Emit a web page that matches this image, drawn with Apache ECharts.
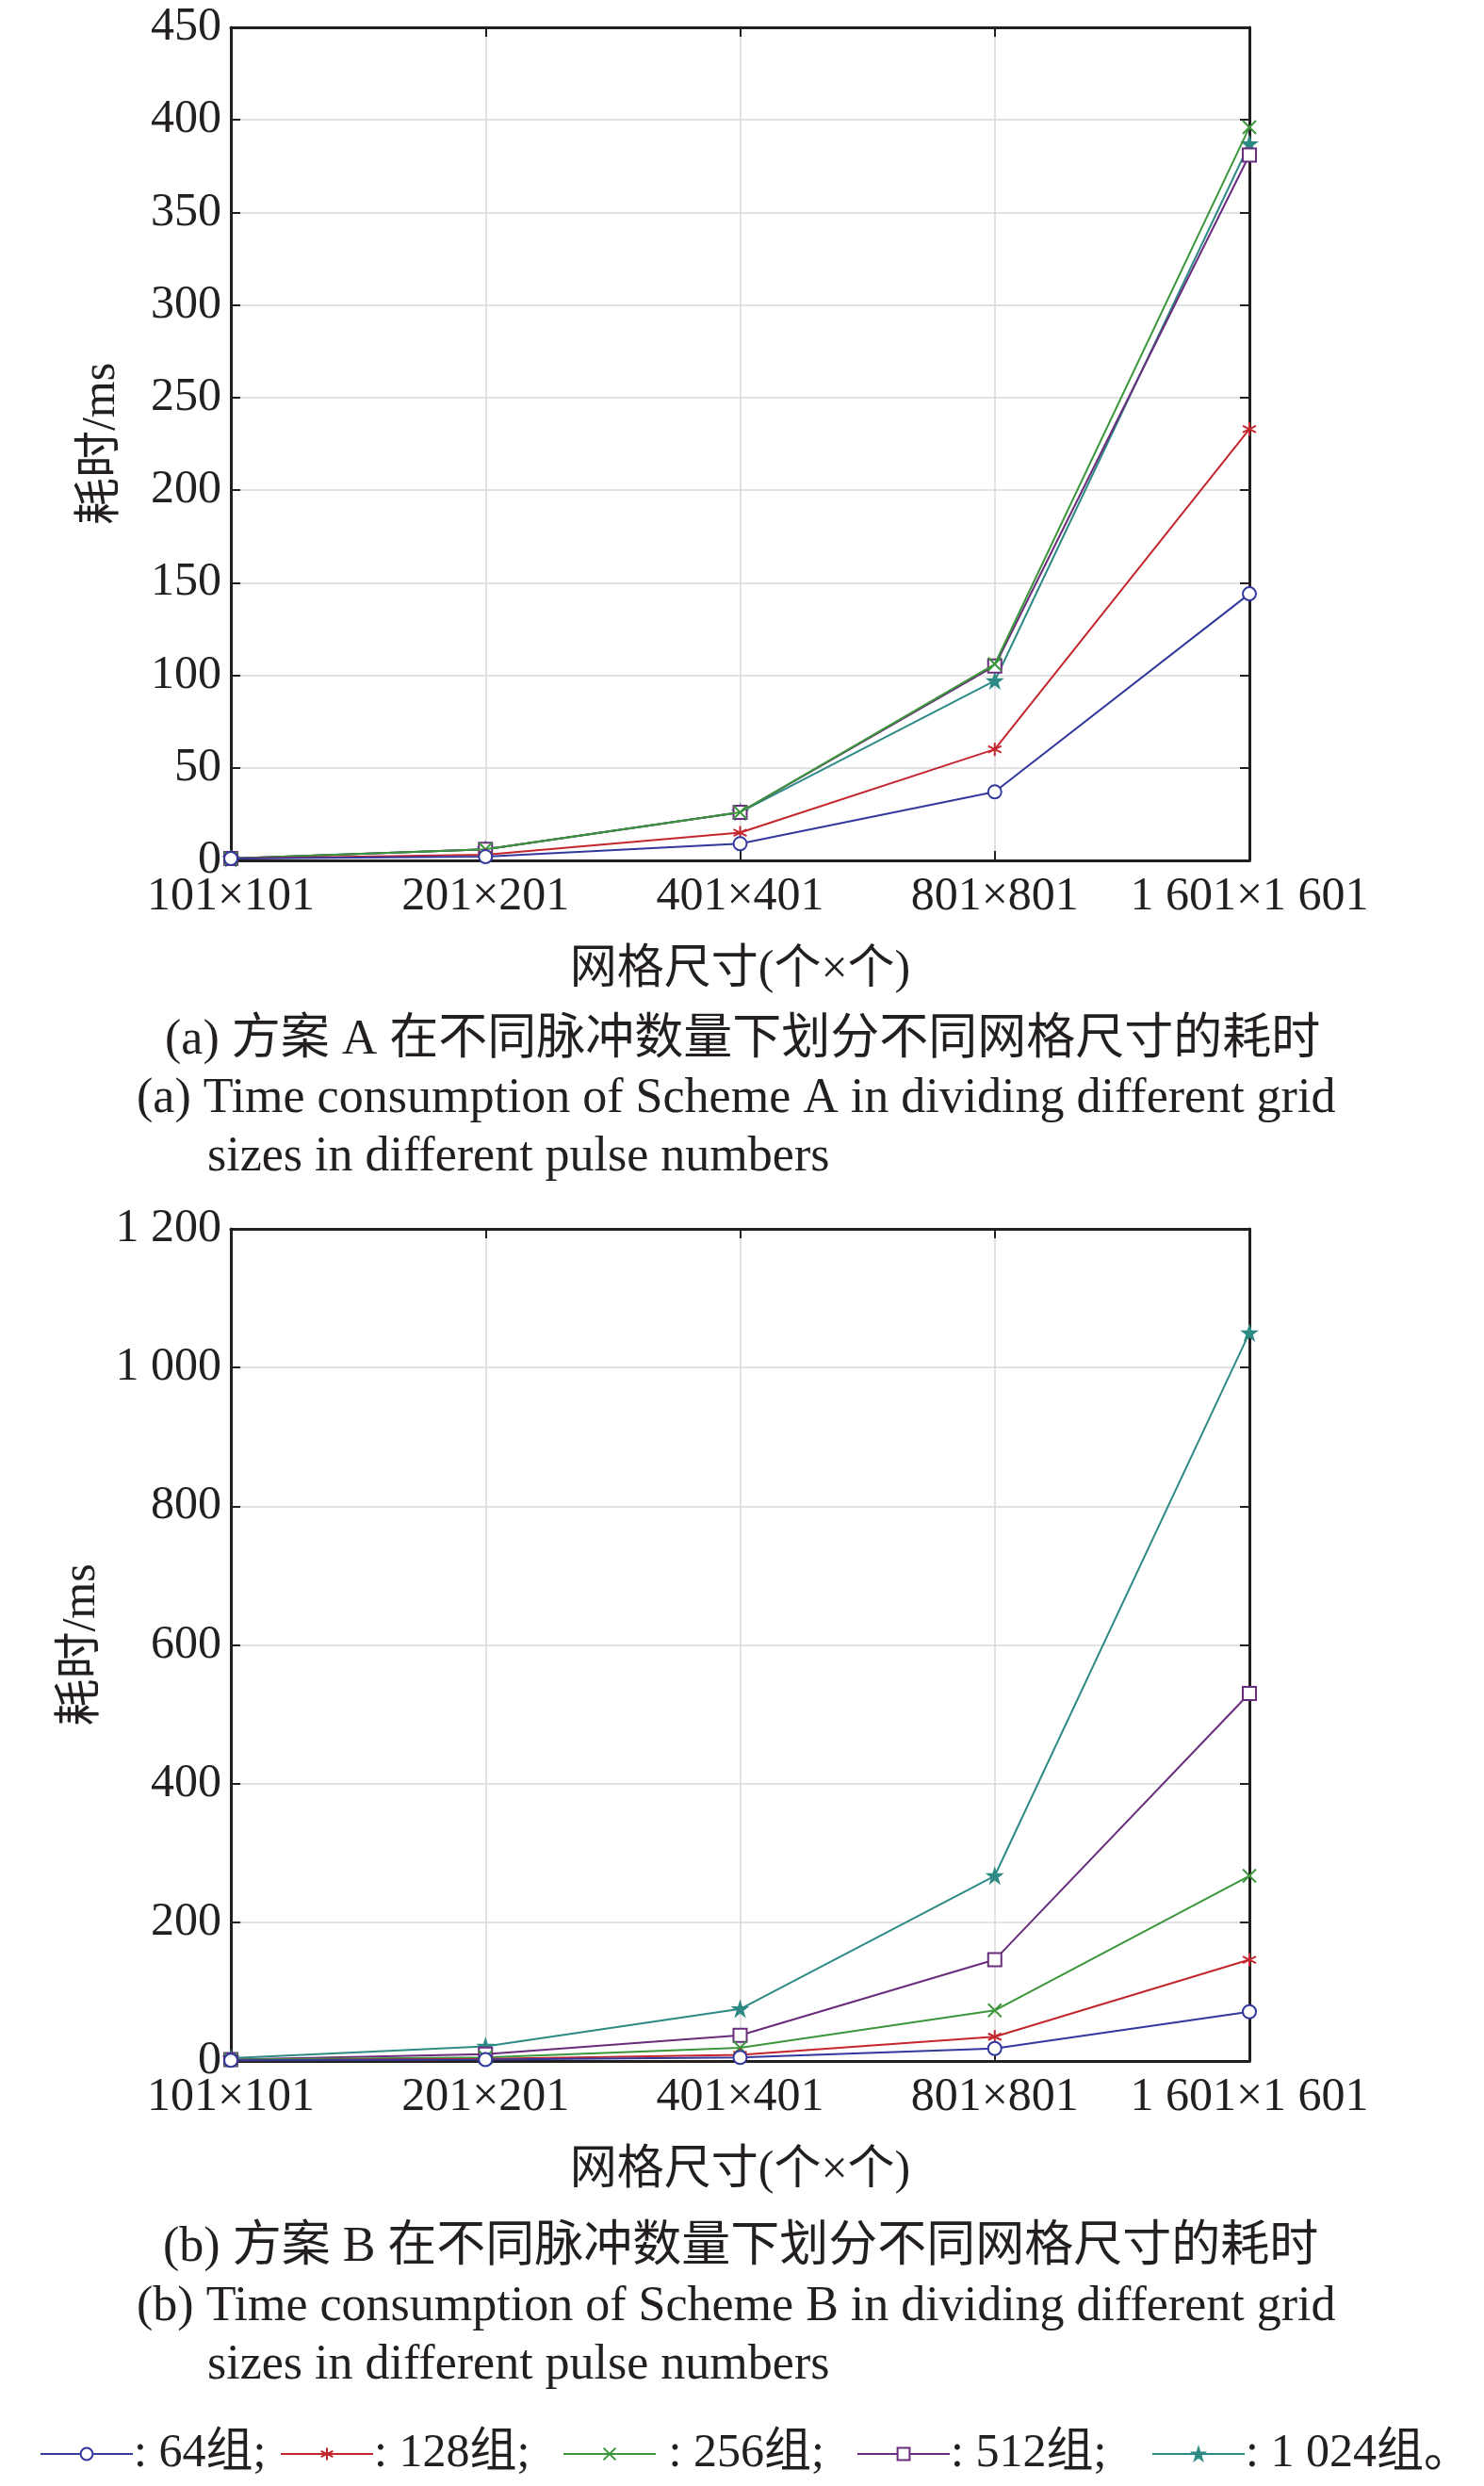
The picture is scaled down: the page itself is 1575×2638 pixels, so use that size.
<!DOCTYPE html>
<html>
<head>
<meta charset="utf-8">
<script src="https://cdn.jsdelivr.net/npm/echarts@6/dist/echarts.min.js"></script>
<style>
  html, body { margin: 0; padding: 0; background: #fff; }
  #chart { width: 1575px; height: 2638px; }
</style>
</head>
<body>
<div id="chart"></div>
<script>
// grid sizes (categories)
const gridSizes = ['101×101', '201×201', '401×401', '801×801', '1 601×1 601'];

// Scheme A, time in ms
const aGroup64 = [1, 2, 9, 37, 144];
const aGroup128 = [1, 3, 15, 60, 233];
const aGroup256 = [1, 6, 26, 106, 396];
const aGroup512 = [1, 6, 26, 105, 381];
const aGroup1024 = [1, 6, 26, 97, 387];

// Scheme B, time in ms
const bGroup64 = [1, 2, 5, 18, 71];
const bGroup128 = [1, 3, 9, 35, 146];
const bGroup256 = [2, 5, 19, 73, 267];
const bGroup512 = [2, 10, 37, 146, 530];
const bGroup1024 = [4, 21, 75, 267, 1050];

const groupNames = ['64组', '128组', '256组', '512组', '1 024组'];
const legendTexts = [': 64组;', ': 128组;', ' : 256组;', ': 512组;', ': 1 024组。'];

const FONT = "'Liberation Serif', 'Noto Sans CJK SC', serif";
const INK = '#231f20';
const colores = ['#33399c', '#c4262e', '#3b963b', '#6a2c7c', '#2e8a84'];
const simbolos = [
    'emptyCircle',
    'path://M5,0L5,10M0.67,2.5L9.33,7.5M0.67,7.5L9.33,2.5',
    'path://M0,0L10,10M0,10L10,0',
    'emptyRect',
    'path://M5,0L6.2,3.6L10,3.6L6.9,5.9L8.1,9.5L5,7.3L1.9,9.5L3.1,5.9L0,3.6L3.8,3.6Z'
];

function fmtMiles(v) {
    return String(v).replace(/(\d)(\d{3})$/, '$1 $2');
}

function ejeX(grid, pos, conEtiquetas) {
    return {
        type: 'category',
        gridIndex: grid,
        position: pos,
        data: gridSizes,
        boundaryGap: false,
        axisLine: { show: true, onZero: false, lineStyle: { color: INK, width: 3 } },
        axisTick: { show: true, inside: true, length: 10, interval: 0, lineStyle: { color: INK, width: 2 } },
        axisLabel: { show: conEtiquetas, interval: 0, hideOverlap: false, margin: 14, color: INK, fontFamily: FONT, fontSize: 50 },
        splitLine: { show: conEtiquetas, interval: 0, lineStyle: { color: '#d8d8d8', width: 1.5 } },
        name: conEtiquetas ? '网格尺寸(个×个)' : '',
        nameLocation: 'middle',
        nameGap: 92,
        nameTextStyle: { color: INK, fontFamily: FONT, fontSize: 50 }
    };
}

function ejeY(grid, pos, max, intervalo, conEtiquetas, gap) {
    return {
        type: 'value',
        gridIndex: grid,
        position: pos,
        min: 0,
        max: max,
        interval: intervalo,
        axisLine: { show: true, lineStyle: { color: INK, width: 3 } },
        axisTick: { show: true, inside: true, length: 10, lineStyle: { color: INK, width: 2 } },
        axisLabel: { show: conEtiquetas, margin: 10, color: INK, fontFamily: FONT, fontSize: 50, formatter: fmtMiles },
        splitLine: { show: conEtiquetas, lineStyle: { color: '#d8d8d8', width: 1.5 } },
        name: conEtiquetas ? '耗时/ms' : '',
        nameLocation: 'middle',
        nameRotate: 90,
        nameGap: gap,
        nameTextStyle: { color: INK, fontFamily: FONT, fontSize: 50 }
    };
}

function serie(i, datos, eje) {
    return {
        name: groupNames[i],
        type: 'line',
        xAxisIndex: eje,
        yAxisIndex: eje,
        data: datos,
        symbol: simbolos[i],
        symbolSize: 14,
        showSymbol: true,
        lineStyle: { color: colores[i], width: 2 },
        itemStyle: { color: colores[i], borderColor: colores[i], borderWidth: 2 },
        emphasis: { disabled: true },
        z: 10 - i
    };
}

const seriesA = [aGroup64, aGroup128, aGroup256, aGroup512, aGroup1024];
const seriesB = [bGroup64, bGroup128, bGroup256, bGroup512, bGroup1024];

const legendLeft = [37, 292, 592, 904, 1217];
let leyendas = groupNames.map((n, i) => ({
    data: [n],
    left: legendLeft[i],
    top: 2574,
    itemWidth: 98,
    itemHeight: 16,
    itemGap: 0,
    selectedMode: false,
    formatter: () => legendTexts[i],
    textStyle: { color: INK, fontFamily: FONT, fontSize: 50, padding: [0, 0, 0, -4] }
}));

function texto(x, y, t) {
    return {
        type: 'text',
        left: x,
        top: y,
        style: { text: t, fill: INK, font: '52px ' + FONT }
    };
}

let chart = echarts.init(document.getElementById('chart'));

let option = {
    backgroundColor: '#fff',
    animation: false,
    grid: [
        { left: 245, top: 29, width: 1081, height: 884 },
        { left: 245, top: 1304, width: 1081, height: 883 }
    ],
    xAxis: [ejeX(0, 'bottom', true), ejeX(1, 'bottom', true), ejeX(0, 'top', false), ejeX(1, 'top', false)],
    yAxis: [
        ejeY(0, 'left', 450, 50, true, 112),
        ejeY(1, 'left', 1200, 200, true, 132),
        ejeY(0, 'right', 450, 50, false, 0),
        ejeY(1, 'right', 1200, 200, false, 0)
    ],
    legend: leyendas,
    series: seriesA.map((d, i) => serie(i, d, 0)).concat(seriesB.map((d, i) => serie(i, d, 1))),
    graphic: [
        texto(175, 1078, '(a) 方案 A 在不同脉冲数量下划分不同网格尺寸的耗时'),
        texto(145, 1140, '(a) Time consumption of Scheme A in dividing different grid'),
        texto(220, 1202, 'sizes in different pulse numbers'),
        texto(173, 2359, '(b) 方案 B 在不同脉冲数量下划分不同网格尺寸的耗时'),
        texto(145, 2422, '(b) Time consumption of Scheme B in dividing different grid'),
        texto(220, 2484, 'sizes in different pulse numbers')
    ]
};

chart.setOption(option);
</script>
</body>
</html>
